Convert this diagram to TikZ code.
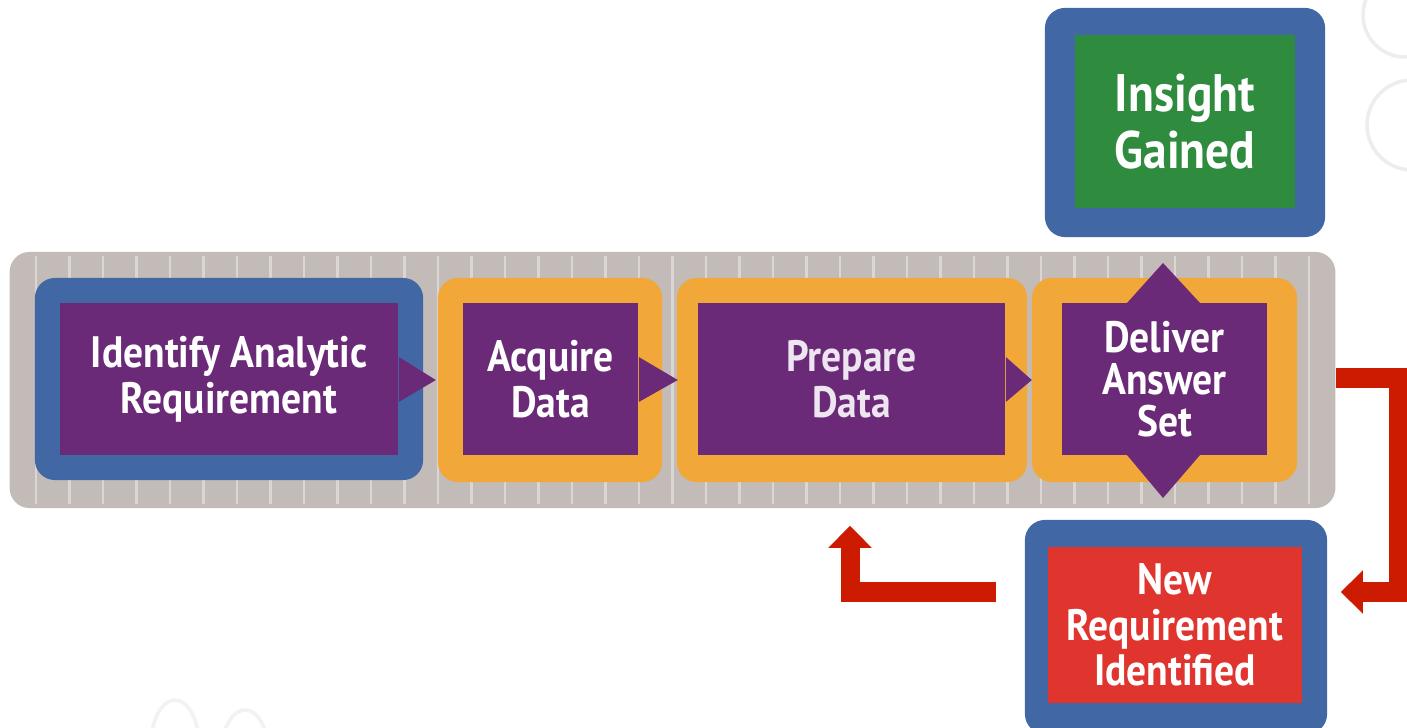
\documentclass[tikz,border=0pt]{standalone}
\usepackage{fontspec}
\setmainfont[FakeStretch=0.9]{PT Sans}
\usetikzlibrary{arrows.meta,calc}

\definecolor{bandgray}{HTML}{C3BBB7}
\definecolor{boxblue}{HTML}{4168A4}
\definecolor{boxorange}{HTML}{F2A838}
\definecolor{steppurple}{HTML}{6B2A78}
\definecolor{insightgreen}{HTML}{2F8B3E}
\definecolor{newred}{HTML}{E0352F}
\definecolor{loopred}{HTML}{CC1B00}

\begin{document}
\begin{tikzpicture}[x=0.01cm,y=-0.01cm,
    frame/.style={rounded corners=0.2cm, inner sep=0pt},
    stepbox/.style={fill=steppurple, inner sep=0pt, text=white, align=center,
        font=\bfseries\fontsize{12.5}{13}\selectfont},
    loopline/.style={loopred, line width=0.19cm, line join=miter,
        -{Triangle[width=0.42cm,length=0.22cm]}}]
    % Canvas
    \useasboundingbox (0,0) rectangle (1407,728);
    \fill[white] (0,0) rectangle (1407,728);

    % Faint circles in the background
    \draw[black!7, line width=1pt] (1405,15) circle (42);
    \draw[black!7, line width=1pt] (1412,125) circle (45);
    \draw[black!5, line width=1pt] (175,745) ellipse (24 and 45);
    \draw[black!5, line width=1pt] (245,755) ellipse (24 and 45);

    % Gray band behind the steps
    \node[frame, fill=bandgray, minimum width=13.25cm, minimum height=2.56cm] (band) at (672.5,380) {};
    \foreach \x in {36,69.5,...,1322}
        \draw[white, opacity=0.4, line width=0.6pt] (\x,256) -- (\x,504);

    % Steps
    \node[frame, fill=boxblue, minimum width=3.88cm, minimum height=2.02cm] (identbox) at (229,379) {};
    \node[stepbox, minimum width=3.38cm, minimum height=1.52cm] (ident) at (229,379) {Identify Analytic\\Requirement};

    \node[frame, fill=boxorange, minimum width=2.24cm, minimum height=2.04cm] (acqbox) at (550,380) {};
    \node[stepbox, minimum width=1.75cm, minimum height=1.52cm] (acq) at (550.5,379) {Acquire\\Data};

    \node[frame, fill=boxorange, minimum width=3.5cm, minimum height=2.04cm] (prepbox) at (852,380) {};
    \node[stepbox, minimum width=3.07cm, minimum height=1.52cm, text=white!88!steppurple] (prep) at (851.5,379) {Prepare\\Data};

    \node[frame, fill=boxorange, minimum width=2.65cm, minimum height=2.04cm] (delbox) at (1164.5,380) {};
    \fill[steppurple] (1127,303) -- (1163,263) -- (1200,303) -- cycle;
    \fill[steppurple] (1127,455) -- (1163,498) -- (1200,455) -- cycle;
    \node[stepbox, minimum width=2.05cm, minimum height=1.52cm] (del) at (1164.5,379) {Deliver\\[-1pt]Answer\\[-1pt]Set};

    % Pointers between steps
    \fill[steppurple] ($(ident.east)+(0,-22)$) -- ($(ident.east)+(37,1)$) -- ($(ident.east)+(0,23)$) -- cycle;
    \fill[steppurple] ($(acq.east)+(0,-22)$) -- ($(acq.east)+(39,1)$) -- ($(acq.east)+(0,23)$) -- cycle;
    \fill[steppurple] ($(prep.east)+(0,-22)$) -- ($(prep.east)+(26,1)$) -- ($(prep.east)+(0,23)$) -- cycle;

    % Outcomes
    \node[frame, fill=boxblue, minimum width=2.8cm, minimum height=2.29cm] (insightbox) at (1185,122.5) {};
    \node[stepbox, fill=insightgreen, minimum width=2.2cm, minimum height=1.73cm,
        font=\bfseries\fontsize{15}{16}\selectfont] (insight) at (1185,121.5) {Insight\\Gained};

    \node[frame, fill=boxblue, minimum width=3.02cm, minimum height=2.14cm] (newreqbox) at (1176,627) {};
    \node[stepbox, fill=newred, minimum width=2.54cm, minimum height=1.56cm] (newreq) at (1175,625) {New\\Requirement\\Identified};

    % Loop back
    \draw[loopline] ($(band.east)+(0,-2)$) -- ++(62,0) |- ($(newreqbox.east)+(13,-35)$);
    \draw[loopline] ($(newreqbox.west)+(-28,-35)$) -| ($(band.south)+(177.5,17)$);
\end{tikzpicture}
\end{document}
